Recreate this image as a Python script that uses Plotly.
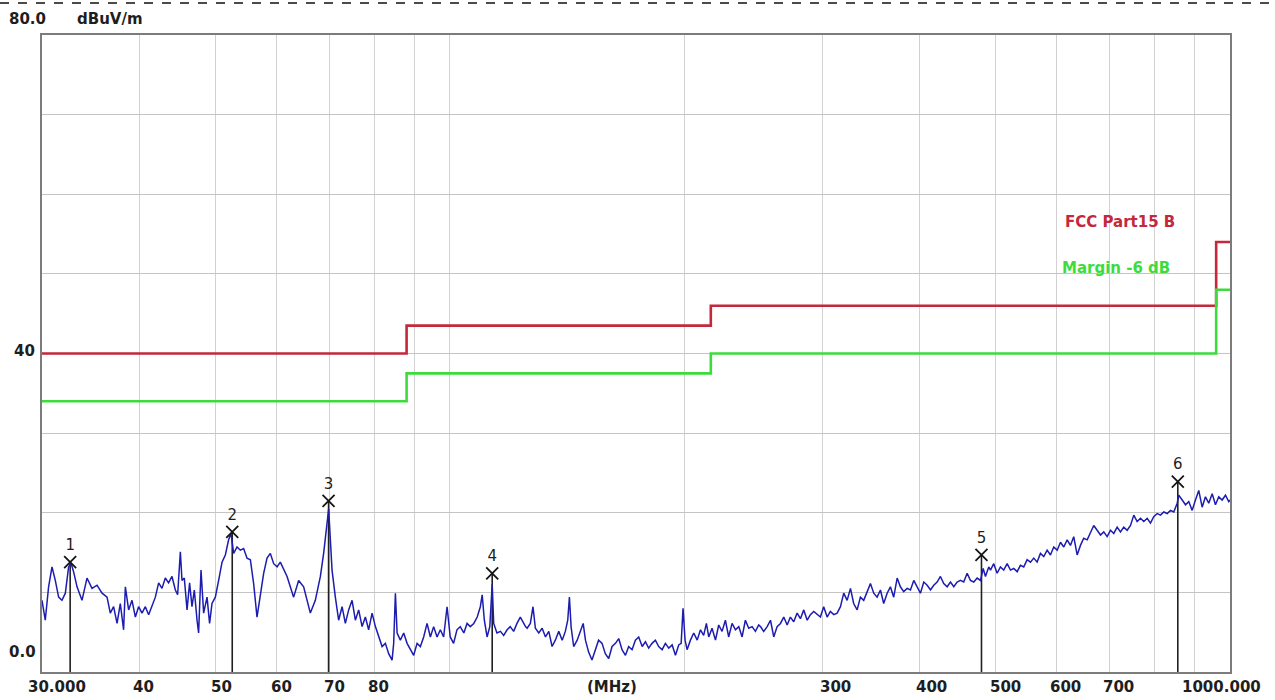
import math
import plotly.graph_objects as go

# ---------------- data ----------------
freq_mhz = [
    30.00, 30.29, 30.59, 30.90, 31.20, 31.51, 31.82, 32.14, 32.45, 32.68, 32.93, 33.27, 33.76, 34.26,
    34.77, 35.29, 35.82, 36.35, 36.70, 37.06, 37.44, 37.80, 38.17, 38.37, 38.74, 39.13, 39.52, 39.90,
    40.30, 40.70, 41.10, 41.51, 41.92, 42.33, 42.75, 43.17, 43.59, 44.03, 44.47, 44.77, 45.13, 45.35,
    45.66, 46.03, 46.38, 46.71, 47.03, 47.41, 47.63, 47.97, 48.34, 48.83, 49.20, 49.55, 50.04, 50.53,
    51.04, 51.54, 52.04, 52.41, 52.82, 53.35, 53.87, 54.40, 54.95, 55.49, 56.03, 56.59, 57.15, 57.71,
    58.29, 58.86, 59.44, 60.04, 60.62,
    61.84, 63.05, 63.99, 64.94, 66.24, 67.22, 68.23, 68.89, 69.45, 69.92, 70.27, 70.62, 71.31, 72.01,
    72.74, 73.45, 74.17, 74.92, 75.65, 76.39, 77.17, 77.92, 78.68, 79.48, 80.26, 81.04, 81.86, 82.66,
    83.47, 84.31, 84.71, 85.14, 85.57, 86.40, 87.25, 88.13, 88.99, 89.86, 90.77, 91.65, 92.55, 93.48,
    94.40, 95.32, 96.28, 97.22, 98.17, 99.17, 100.1, 101.1, 102.1, 103.1, 104.2, 105.2, 106.2, 107.3,
    108.4, 109.4, 110.0, 110.7, 111.6, 112.5, 113.3, 113.8, 114.9, 116.1, 117.2, 118.4, 119.5, 120.7,
    121.9, 123.1, 125.0,
    125.6, 126.8, 127.8, 128.7, 130.0, 131.3, 132.6, 133.9, 135.2, 136.5, 137.9, 139.3, 140.6, 141.6,
    142.3, 143.0, 144.1, 145.6, 147.0, 148.2, 149.2, 150.6, 152.1, 153.6, 155.1, 156.7, 158.2, 159.8,
    161.4, 163.0, 164.6, 166.2, 167.9, 169.5, 171.2, 172.9, 174.6, 176.4, 178.1, 179.8, 181.6, 183.4,
    185.2, 187.1, 188.9, 190.8, 192.7, 194.6, 196.5, 197.9, 199.0, 200.2, 201.4, 203.4, 205.4, 207.5,
    209.5, 211.5, 213.2, 214.7, 216.8, 219.0, 221.1, 223.3, 225.5, 227.7, 230.0, 232.3, 234.6, 236.9,
    239.2, 241.6, 244.0, 246.4, 248.8,
    250.1, 252.5, 255.1, 257.6, 260.1, 262.7, 265.3, 267.9, 270.6, 273.2, 275.9, 278.7, 281.4, 284.2,
    287.1, 289.8, 292.7, 295.6, 298.5, 301.4, 304.5, 307.4, 310.5, 313.6, 316.7, 319.8, 323.0, 326.2,
    329.3, 332.7, 335.9, 339.2, 342.6, 346.0, 349.4, 352.9, 356.4, 359.8, 363.5, 367.0, 370.6, 374.4,
    378.0, 381.7, 385.6, 389.4, 393.2, 397.1, 401.0, 405.0, 409.1, 413.1, 417.1, 421.3, 425.4, 429.6,
    433.9, 438.2, 442.5, 446.9, 451.3, 455.7, 460.3, 464.8, 469.4, 474.1, 478.8, 482.6, 485.9, 490.6,
    493.1, 497.9, 502.9, 507.8, 512.8, 518.0, 523.1, 528.2, 533.5, 538.7, 544.0, 549.5, 554.9, 560.3,
    565.9, 571.5, 577.1, 582.9, 588.6, 594.4, 600.4, 606.3, 612.2, 618.4, 624.4, 630.5, 636.9, 643.1,
    649.4, 656.0, 662.4, 668.9, 675.6, 682.3, 688.9, 695.9, 702.7, 709.6, 716.7, 723.8, 730.8, 738.2,
    745.5, 752.8, 760.3, 767.8, 775.3, 783.1, 790.8, 798.5, 806.6, 814.5, 822.5, 830.8, 838.9, 847.1,
    855.7, 859.7, 868.4, 876.9, 885.4, 894.3, 903.1, 911.9, 921.1, 930.1, 939.2, 948.7, 958.0, 967.4,
    977.1, 986.7, 996.3, 1000.0,
]
level_dbuv = [
    9.0, 6.5, 10.7, 13.2, 11.5, 9.4, 9.0, 9.9, 13.2, 13.7, 12.6, 10.7, 9.0, 11.8,
    10.5, 10.9, 9.9, 9.4, 7.4, 8.2, 6.1, 8.6, 5.3, 10.7, 7.8, 9.0, 6.9, 8.2,
    7.4, 8.2, 7.2, 8.2, 9.4, 11.2, 10.5, 11.8, 11.2, 12.0, 10.3, 9.7, 15.1, 11.5,
    11.8, 7.8, 11.2, 8.2, 10.3, 6.5, 4.9, 12.8, 7.4, 9.4, 6.1, 8.6, 9.4, 11.5,
    13.8, 14.7, 16.6, 17.4, 14.9, 15.7, 15.3, 15.5, 14.3, 14.1, 11.1, 6.9, 9.9, 12.4,
    14.3, 14.9, 13.6, 13.2, 13.8,
    12.0, 9.4, 11.5, 10.7, 7.4, 9.0, 12.0, 14.9, 17.8, 20.5, 16.6, 12.8, 9.4, 6.5,
    8.2, 6.1, 7.8, 9.0, 6.5, 7.8, 5.7, 6.9, 5.3, 7.4, 5.7, 4.4, 3.2, 3.6,
    2.3, 1.5, 3.6, 9.9, 4.9, 4.0, 4.9, 3.6, 2.8, 2.1, 3.6, 3.2, 4.4, 6.1,
    4.4, 5.7, 4.4, 5.3, 4.4, 8.2, 4.4, 3.6, 5.3, 5.7, 4.9, 6.1, 5.7, 6.1,
    6.9, 8.2, 9.7, 6.5, 4.4, 5.7, 11.0, 6.1, 4.9, 5.1, 4.6, 5.3, 5.7, 5.1,
    6.1, 6.9, 5.7,
    5.5, 6.1, 8.2, 5.5, 4.9, 5.5, 4.4, 5.1, 3.2, 4.0, 5.1, 4.0, 5.1, 6.5,
    9.4, 5.7, 3.2, 4.0, 5.3, 6.1, 4.0, 2.5, 1.5, 2.8, 4.0, 3.6, 2.3, 1.7,
    3.2, 3.6, 4.2, 2.8, 2.1, 3.2, 2.8, 4.0, 4.4, 3.2, 3.8, 3.0, 3.6, 4.0,
    3.2, 2.8, 3.6, 3.0, 3.4, 2.1, 3.4, 3.6, 8.0, 4.0, 2.8, 4.0, 4.9, 4.0,
    5.3, 4.6, 6.1, 4.4, 5.5, 4.0, 5.9, 5.1, 6.5, 4.4, 6.1, 5.3, 5.7, 4.4,
    6.5, 5.5, 5.7, 5.1, 5.9,
    5.7, 5.1, 5.7, 6.5, 4.4, 5.7, 6.1, 6.9, 5.9, 6.9, 6.3, 7.4, 6.7, 7.8,
    6.5, 7.2, 7.6, 7.2, 6.9, 8.2, 6.9, 7.6, 7.2, 7.4, 8.2, 9.9, 9.0, 10.5,
    8.6, 7.8, 9.4, 9.0, 10.1, 11.1, 9.9, 9.4, 10.3, 8.6, 9.9, 10.7, 9.4, 11.8,
    10.7, 10.1, 10.5, 10.3, 11.5, 10.7, 9.9, 11.3, 10.9, 10.3, 10.9, 11.3, 12.0, 11.1,
    10.7, 11.3, 10.7, 11.3, 11.5, 11.3, 12.4, 11.5, 11.3, 11.8, 11.5, 13.0, 12.0, 13.2,
    12.8, 13.6, 12.4, 13.2, 12.8, 13.6, 12.8, 13.0, 12.6, 13.4, 13.2, 14.1, 13.8, 14.3,
    13.8, 14.9, 14.5, 15.3, 14.7, 15.7, 15.3, 16.3, 15.7, 16.6, 15.9, 17.0, 14.7, 15.9,
    16.8, 16.6, 17.4, 18.4, 17.8, 17.2, 17.6, 17.0, 17.8, 17.4, 18.2, 17.6, 18.2, 17.8,
    18.4, 19.7, 18.9, 19.3, 18.9, 19.3, 18.7, 19.5, 19.9, 19.7, 20.1, 19.9, 20.3, 20.1,
    21.2, 22.2, 21.6, 21.0, 21.4, 20.3, 21.6, 22.8, 20.7, 22.0, 21.2, 22.4, 21.0, 22.0,
    21.6, 22.2, 21.4, 21.6,
]

limit_freq = [30, 88, 216, 960, 1000]
limit_fcc = [40.0, 43.5, 46.0, 54.0, 54.0]
limit_margin = [34.0, 37.5, 40.0, 48.0, 48.0]

marker_id = ["1", "2", "3", "4", "5", "6"]
marker_freq = [32.6, 52.6, 69.9, 113.3, 480.2, 857.2]
marker_level = [13.8, 17.6, 21.5, 12.4, 14.7, 23.9]

x_tick_vals = [30, 40, 50, 60, 70, 80, 300, 400, 500, 600, 700, 1000]
x_tick_text = ["30.000", "40", "50", "60", "70", "80", "300", "400", "500", "600", "700", "1000.000"]
grid_freqs = [40, 50, 60, 70, 80, 90, 100, 200, 300, 400, 500, 600, 700, 800, 900]
y_grid = [10, 20, 30, 40, 50, 60, 70]

# ---------------- styling ----------------
FONT = "DejaVu Sans"
TXT = "#1e1e1e"
RED = "#c4283a"
GREEN = "#3ddc3d"
BLUE = "#1c1cb0"
W, H = 1275, 700
ML, MR, MT, MB = 42, 45, 35, 28
PW, PH = W - ML - MR, H - MT - MB
label_shift = [15, 4, 6, 5, 5, 4, 13, 12, 10, 9, 9, -9]


def bold(size, color=TXT):
    return dict(family=FONT, size=size, color=color, weight="bold")


fig = go.Figure()

# limit lines
fig.add_trace(go.Scatter(x=limit_freq, y=limit_fcc, mode="lines", line=dict(color=RED, width=2.6, shape="hv"),
                         hoverinfo="skip", showlegend=False))
fig.add_trace(go.Scatter(x=limit_freq, y=limit_margin, mode="lines", line=dict(color=GREEN, width=2.6, shape="hv"),
                         hoverinfo="skip", showlegend=False))

# marker stems
stem_x, stem_y = [], []
for f, l in zip(marker_freq, marker_level):
    stem_x += [f, f, None]
    stem_y += [0, l, None]
fig.add_trace(go.Scatter(x=stem_x, y=stem_y, mode="lines", line=dict(color="#202020", width=1.6),
                         hoverinfo="skip", showlegend=False))

# measured trace
fig.add_trace(go.Scatter(x=freq_mhz, y=level_dbuv, mode="lines", line=dict(color=BLUE, width=1.5),
                         showlegend=False))

# marker crosses + numbers
fig.add_trace(go.Scatter(x=marker_freq, y=marker_level, mode="markers+text", text=marker_id,
                         textposition="top center",
                         textfont=dict(family=FONT, size=15, color=TXT),
                         marker=dict(symbol="x-thin", size=12, line=dict(width=1.8, color="#151515"), color="#151515"),
                         showlegend=False))

fig.update_xaxes(type="log", range=[math.log10(30), math.log10(1000)],
                 tickvals=grid_freqs, showticklabels=False, ticks="",
                 showgrid=True, gridcolor="#d2d2d2", gridwidth=1,
                 showline=True, mirror=True, linecolor="#7c7c7c", linewidth=2, zeroline=False)
fig.update_yaxes(range=[0, 80], tickvals=y_grid, showticklabels=False, ticks="",
                 showgrid=True, gridcolor="#c4c4c4", gridwidth=1,
                 showline=True, mirror=True, linecolor="#7c7c7c", linewidth=2, zeroline=False)

ann = []
for v, t, s in zip(x_tick_vals, x_tick_text, label_shift):
    ann.append(dict(x=math.log10(v), y=0, xref="x", yref="y", text=t, showarrow=False,
                    xanchor="center", yanchor="middle", xshift=s, yshift=-15, font=bold(15)))
ann.append(dict(x=(612 - ML) / PW, y=0, xref="paper", yref="y", text="(MHz)", showarrow=False,
                xanchor="center", yanchor="middle", yshift=-15, font=bold(15)))
# y labels
ann.append(dict(x=0, y=80, xref="paper", yref="y", text="80.0", showarrow=False, xanchor="left",
                yanchor="middle", xshift=-(ML - 7), yshift=16, font=bold(15)))
ann.append(dict(x=0, y=80, xref="paper", yref="y", text="dBuV/m", showarrow=False, xanchor="left",
                yanchor="middle", xshift=75 - ML, yshift=16, font=bold(15)))
ann.append(dict(x=0, y=40, xref="paper", yref="y", text="40", showarrow=False, xanchor="right",
                yanchor="middle", xshift=-5, yshift=3, font=bold(15)))
ann.append(dict(x=0, y=0, xref="paper", yref="y", text="0.0", showarrow=False, xanchor="left",
                yanchor="middle", xshift=-(ML - 7), yshift=20, font=bold(15)))
# limit labels
ann.append(dict(x=math.log10(610), y=56.5, xref="x", yref="y", text="FCC Part15 B", showarrow=False,
                xanchor="left", yanchor="middle", font=bold(15, RED)))
ann.append(dict(x=math.log10(606), y=50.7, xref="x", yref="y", text="Margin -6 dB", showarrow=False,
                xanchor="left", yanchor="middle", font=bold(15, GREEN)))

fig.update_layout(
    width=W, height=H,
    margin=dict(l=ML, r=MR, t=MT, b=MB, pad=0),
    paper_bgcolor="white", plot_bgcolor="white",
    annotations=ann,
    shapes=[dict(type="line", xref="paper", yref="paper",
                 x0=-ML / PW, x1=(W - ML) / PW, y0=1 + (MT - 3) / PH, y1=1 + (MT - 3) / PH,
                 line=dict(color="#111111", width=1.5, dash="dash"))],
    showlegend=False,
)

fig.write_html("out.html", config={"displayModeBar": False},
               post_script="document.body.style.margin='0';document.body.style.overflow='hidden';")
